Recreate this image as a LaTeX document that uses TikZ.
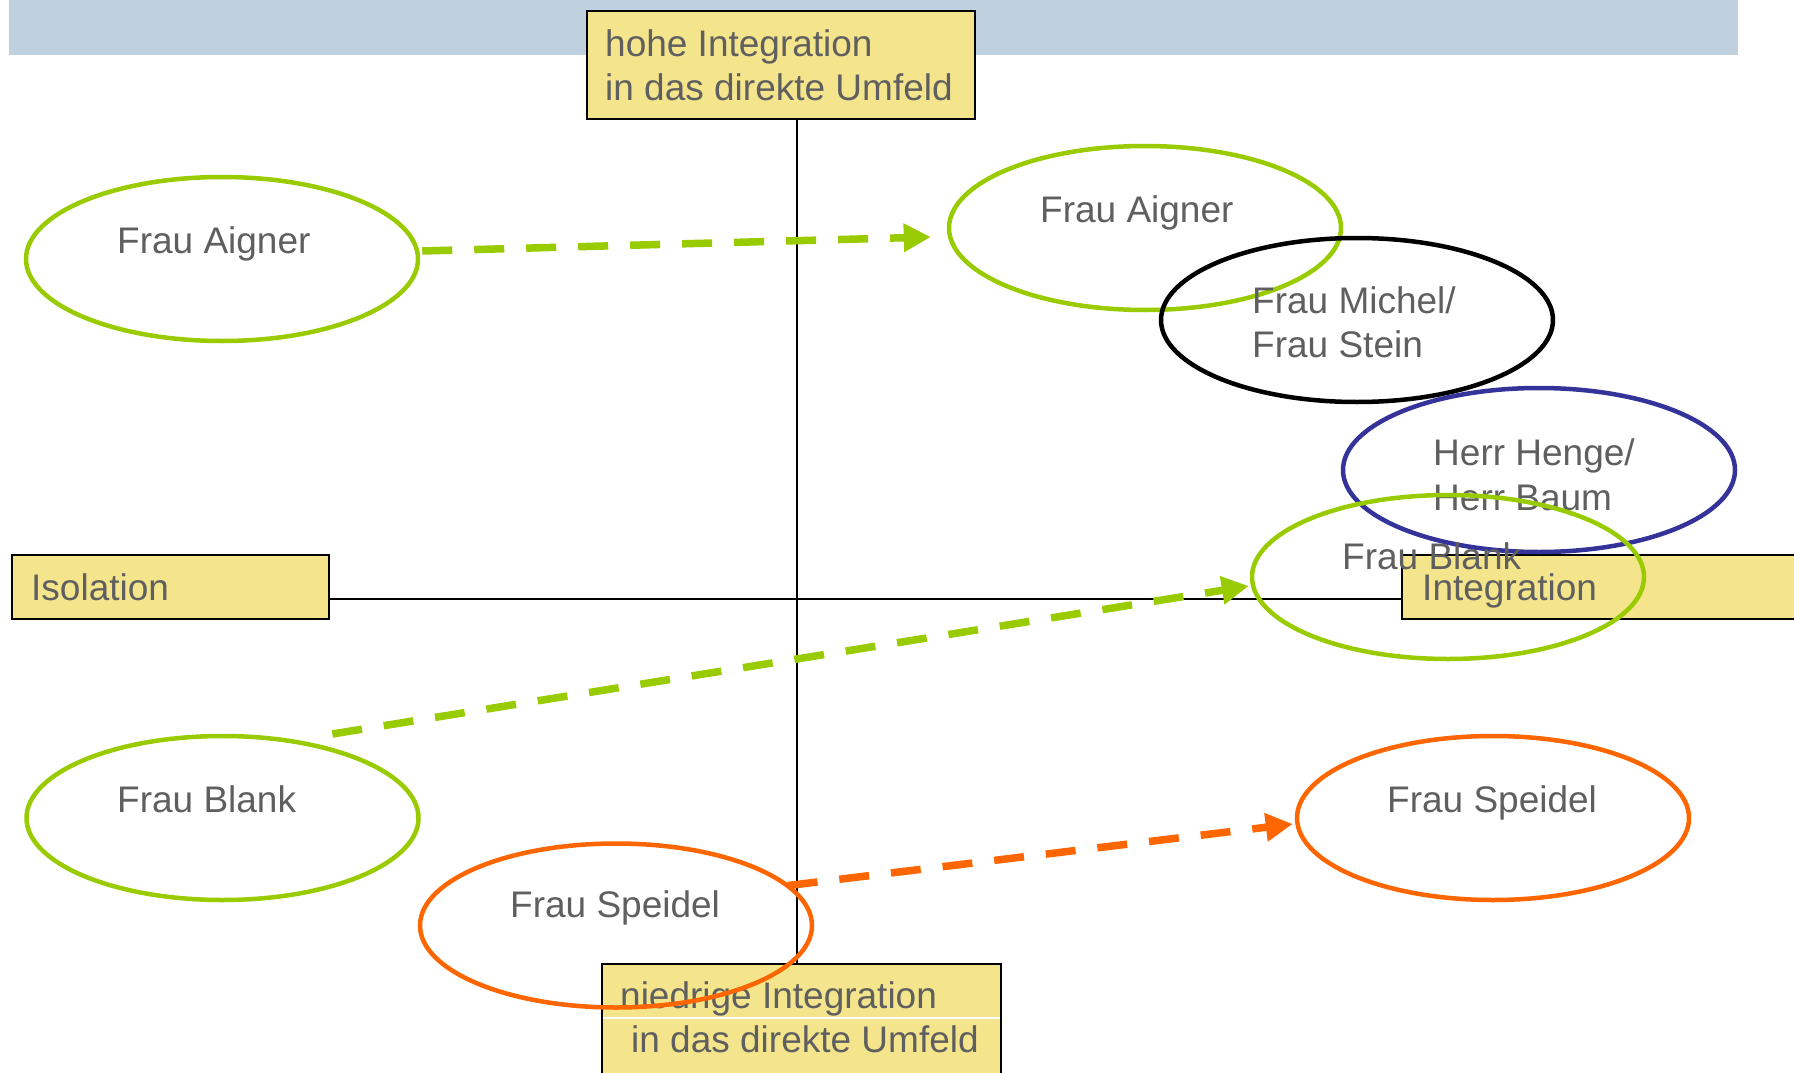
\documentclass[tikz,border=0pt]{standalone}
\usepackage{fontspec}
\setmainfont{Liberation Sans}
\usetikzlibrary{shapes.geometric,arrows.meta}
\definecolor{band}{RGB}{191,209,222}
\definecolor{boxfill}{RGB}{244,229,140}
\definecolor{txt}{RGB}{95,95,95}
\definecolor{lgreen}{RGB}{153,204,0}
\definecolor{lorange}{RGB}{255,102,0}
\definecolor{dblue}{RGB}{51,51,153}
\tikzset{
  ell/.style={ellipse, draw, line width=4.5pt, minimum width=392pt, minimum height=164pt, inner sep=0pt},
  lab/.style={anchor=north west, inner sep=0pt, text=txt, align=left,
    font=\fontsize{37}{44.5}\selectfont},
  ybox/.style={rectangle, draw=black, fill=boxfill, line width=2.5pt, inner sep=0pt},
  axis/.style={line width=2.5pt, draw=black},
  darrow/.style={line width=7.5pt, dash pattern=on 30pt off 22pt,
    -{Triangle[length=27pt,width=27pt]}},
}
\begin{document}
\begin{tikzpicture}[x=1pt,y=-1pt]
\clip (0,0) rectangle (1794,1073);
\fill[white] (0,0) rectangle (1794,1073);
% band
\fill[band] (9,0) rectangle (1738,55);
% boxes
\node[ybox, minimum width=388pt, minimum height=108pt] (top) at (781,65) {};
\node[ybox, minimum width=317pt, minimum height=64pt] (iso) at (170.5,587) {};
\node[ybox, minimum width=398pt, minimum height=64pt] (integ) at (1601,587) {};
\node[ybox, minimum width=399pt, minimum height=116pt] (bot) at (801.5,1022) {};
\draw[white, line width=1.5pt] ([shift={(2,-4)}]bot.west) -- ([shift={(-2,-4)}]bot.east);
% axes
\draw[axis] ([shift={(16,0)}]top.south) -- ([shift={(-4.5,0)}]bot.north);
\draw[axis] ([shift={(0,12)}]iso.east) -- ([shift={(0,12)}]integ.west);
% box labels
\node[lab] (ttop) at (605,29.4) {hohe Integration\\in das direkte Umfeld};
\node[lab] (tiso) at (31,573.4) {Isolation};
\node[lab] (tinteg) at (1422,573.5) {Integration};
\node[lab] (tbot) at (620,981.4) {niedrige Integration\\\hspace*{11pt}in das direkte Umfeld};
% ellipses
\node[ell, draw=lgreen] (e1) at (222,259) {};
\node[lab] (t1) at (117,226.4) {Frau Aigner};
\node[ell, draw=lgreen] (e2) at (1145,228) {};
\node[lab] (t2) at (1040,195.4) {Frau Aigner};
\node[ell, draw=black] (e3) at (1357,320) {};
\node[lab] (t3) at (1252,286) {Frau Michel/\\Frau Stein};
\node[ell, draw=dblue] (e4) at (1539,470) {};
\node[lab] (t4) at (1433,438.5) {Herr Henge/\\Herr Baum};
\node[lab] (t5) at (1342,542.4) {Frau Blank};
\node[ell, draw=lgreen] (e5) at (1448,577) {};
\node[ell, draw=lgreen] (e6) at (222.5,818) {};
\node[lab] (t6) at (117,785.4) {Frau Blank};
\node[ell, draw=lorange] (e7) at (1493,818) {};
\node[lab] (t7) at (1387,785.4) {Frau Speidel};
\node[ell, draw=lorange] (e8) at (616,925.5) {};
\node[lab] (t8) at (510,890.4) {Frau Speidel};
% arrows
\draw[darrow, draw=lgreen] ([shift={(2,-8)}]e1.east) -- ([shift={(-16,9)}]e2.west);
\draw[darrow, draw=lgreen] ([shift={(7,-12)}]e6.35) -- ([shift={(-1,9)}]e5.west);
\draw[darrow, draw=lorange] ([shift={(4,5)}]e8.15) -- ([shift={(-2,6)}]e7.west);
\end{tikzpicture}
\end{document}
